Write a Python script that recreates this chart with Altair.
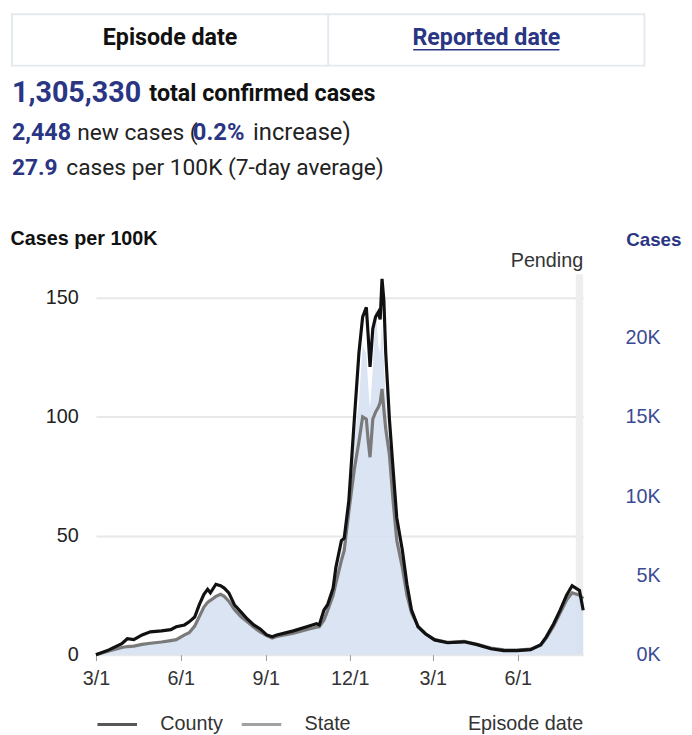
import altair as alt
import pandas as pd

# ---------------- data ----------------
dates = [
    "2020-03-01", "2020-03-15", "2020-03-29", "2020-04-04", "2020-04-11", "2020-04-20",
    "2020-04-29", "2020-05-11", "2020-05-21", "2020-05-27", "2020-06-05", "2020-06-10",
    "2020-06-16", "2020-06-21", "2020-06-26", "2020-06-30", "2020-07-03", "2020-07-09",
    "2020-07-14", "2020-07-18", "2020-07-23", "2020-07-29", "2020-08-05", "2020-08-12",
    "2020-08-19", "2020-08-26", "2020-09-02", "2020-09-08", "2020-09-13", "2020-10-01",
    "2020-10-18", "2020-10-26", "2020-10-29", "2020-11-03", "2020-11-07", "2020-11-13",
    "2020-11-16", "2020-11-22", "2020-11-25", "2020-11-30", "2020-12-06", "2020-12-11",
    "2020-12-15", "2020-12-19", "2020-12-21", "2020-12-23", "2020-12-26", "2020-12-29",
    "2021-01-01", "2021-01-03", "2021-01-05", "2021-01-07", "2021-01-09", "2021-01-13",
    "2021-01-17", "2021-01-21", "2021-01-27", "2021-02-01", "2021-02-06", "2021-02-13",
    "2021-02-21", "2021-03-03", "2021-03-17", "2021-04-04", "2021-04-18", "2021-05-03",
    "2021-05-17", "2021-05-31", "2021-06-15", "2021-06-26", "2021-07-02", "2021-07-10",
    "2021-07-17", "2021-07-24", "2021-07-30", "2021-08-03", "2021-08-07", "2021-08-11",
]
county_per_100k = [
    0, 2.0, 4.6, 6.7, 6.3, 8.3, 9.6, 10.0, 10.5, 11.7, 12.5, 13.8,
    15.8, 21.0, 25.4, 27.5, 26.0, 29.6, 29.0, 28.0, 26.0, 21.0, 18.0, 15.0,
    12.5, 10.8, 8.3, 7.5, 8.3, 10.0, 12.0, 13.0, 12.5, 18.7, 21.0, 28.0,
    36.7, 48.0, 49.0, 64.6, 99.0, 127.0, 142.0, 146.0, 134.0, 121.0, 137.0, 142.0,
    144.0, 141.0, 158.0, 149.0, 127.0, 99.0, 78.0, 57.5, 44.0, 29.6, 18.7, 11.7,
    8.8, 6.2, 5.0, 5.4, 4.2, 2.5, 1.7, 1.7, 2.1, 4.2, 7.5, 13.0,
    18.7, 25.0, 29.0, 28.0, 27.0, 18.7,
]
state_per_100k = [
    0, 1.5, 3.0, 3.4, 3.6, 4.3, 4.8, 5.3, 5.9, 6.3, 8.3, 9.2,
    12.0, 16.0, 20.0, 22.0, 22.8, 24.5, 25.4, 24.5, 22.5, 19.0, 16.0, 13.8,
    11.5, 9.6, 8.0, 7.0, 7.6, 9.0, 10.8, 11.5, 11.7, 14.5, 18.5, 25.0,
    30.0, 39.6, 43.7, 60.0, 78.0, 89.6, 100.0, 99.0, 90.0, 83.0, 99.0, 102.0,
    104.0, 106.0, 111.7, 103.0, 95.0, 84.0, 64.6, 48.0, 36.7, 25.0, 17.5, 12.0,
    8.8, 6.3, 5.2, 5.6, 4.4, 2.8, 2.0, 1.9, 2.3, 4.0, 7.0, 12.0,
    17.5, 23.0, 26.0, 25.5, 25.0, 23.5,
]
daily_cases = [
    0, 200, 450, 500, 550, 650, 720, 800, 900, 950, 1250, 1400,
    1800, 2400, 3000, 3300, 3300, 3700, 3800, 3700, 3400, 2900, 2400, 2100,
    1700, 1450, 1200, 1050, 1150, 1350, 1600, 1750, 1800, 2300, 2900, 4000,
    5000, 6500, 7200, 9500, 13500, 16000, 19500, 19000, 17000, 15500, 18000, 22000,
    19500, 19000, 21000, 18500, 16000, 13000, 10500, 8000, 6000, 4000, 2700, 1800,
    1300, 950, 780, 820, 650, 420, 300, 280, 330, 600, 1050, 1800,
    2600, 3400, 3900, 3850, 3700, 3500,
]
series_names = ["County", "State"]
x_tick_dates = [(2020, 3), (2020, 6), (2020, 9), (2020, 12), (2021, 3), (2021, 6)]
left_ticks = [0, 50, 100, 150]
right_ticks = [0, 5000, 10000, 15000, 20000]
pending_start = "2021-08-03"
pending_end = "2021-08-11"

NAVY = "#2a3584"
TXT = "#222222"
HFONT = "Roboto"
CFONT = "Liberation Sans"

# ---------------- tables ----------------
df_cases = pd.DataFrame({"date": pd.to_datetime(dates), "cases": daily_cases})
df_lines = pd.concat([
    pd.DataFrame({"date": pd.to_datetime(dates), "value": state_per_100k, "series": "State", "order": 0}),
    pd.DataFrame({"date": pd.to_datetime(dates), "value": county_per_100k, "series": "County", "order": 1}),
])
df_pending = pd.DataFrame({"date": [pd.Timestamp(pending_start)], "end": [pd.Timestamp(pending_end)]})

x_domain = [alt.DateTime(year=2020, month=3, date=1), alt.DateTime(year=2021, month=8, date=11)]
x_vals = [alt.DateTime(year=y, month=m, date=1) for y, m in x_tick_dates]
xscale = alt.Scale(domain=x_domain)

x_axis = alt.Axis(values=x_vals, format="%-m/%-d", labelFontSize=20, labelColor="#333333",
                  labelFont=CFONT, tickColor="#9a9a9a", tickSize=6, domain=False, grid=False,
                  title=None, labelPadding=8, labelFlush=False)
X = alt.X("date:T", scale=xscale, axis=x_axis)

pending = alt.Chart(df_pending).mark_rect(color="#eeeeee").encode(x=X, x2="end:T")

area = alt.Chart(df_cases).mark_area(color="#d3dff1", opacity=0.85, interpolate="linear").encode(
    x=X,
    y=alt.Y("cases:Q", scale=alt.Scale(domain=[0, 24000], nice=False),
            axis=alt.Axis(orient="right", values=right_ticks,
                          labelExpr="(datum.value/1000) + 'K'",
                          grid=False, domain=False, ticks=False, labelAlign="right",
                          labelPadding=78, labelColor="#3b4a94", labelFontSize=20,
                          labelFont=CFONT, labelBaseline="middle",
                          title="Cases", titleAngle=0, titleAlign="left", titleBaseline="middle",
                          titleX=43, titleY=-35, titleColor=NAVY, titleFontWeight="bold",
                          titleFontSize=19, titleFont=CFONT)),
)

lines = alt.Chart(df_lines).mark_line(strokeWidth=3.2, interpolate="linear").encode(
    x=X,
    y=alt.Y("value:Q", scale=alt.Scale(domain=[0, 160], nice=False),
            axis=alt.Axis(orient="left", values=left_ticks, grid=True, gridColor="#e8e8e8",
                          gridWidth=2, domain=False, ticks=False, labelPadding=18,
                          labelFontSize=20, labelColor=TXT, labelFont=CFONT,
                          title="Cases per 100K", titleAngle=0, titleAlign="left",
                          titleBaseline="middle", titleX=-87, titleY=-36, titleFontSize=20,
                          titleFontWeight="bold", titleColor="#111111", titleFont=CFONT)),
    color=alt.Color("series:N",
                    scale=alt.Scale(domain=series_names, range=["#111111", "#7a7a7a"]),
                    legend=alt.Legend(orient="none", legendX=0, legendY=434, direction="horizontal",
                                      title=None, symbolType="stroke", symbolStrokeWidth=3,
                                      symbolSize=1600, symbolOpacity=0.7, labelFontSize=20,
                                      labelColor="#333333", labelFont=CFONT, labelOffset=22,
                                      columnPadding=12)),
    order=alt.Order("order:Q"),
)


def txt(text, x, y, size, weight="normal", color=TXT, font=HFONT, align="left", baseline="middle"):
    return alt.Chart(pd.DataFrame({"t": [text]})).mark_text(
        text=text, fontSize=size, fontWeight=weight, color=color, font=font,
        align=align, baseline=baseline).encode(x=alt.value(x), y=alt.value(y))


box = alt.Chart(pd.DataFrame({"t": [0]})).mark_rect(
    fill="white", stroke="#e4e9ef", strokeWidth=2).encode(
    x=alt.value(-85), x2=alt.value(555), y=alt.value(-263), y2=alt.value(-211))
divider = alt.Chart(pd.DataFrame({"t": [0]})).mark_rule(color="#e4e9ef", strokeWidth=2).encode(
    x=alt.value(235), y=alt.value(-263), y2=alt.value(-211))
underline = alt.Chart(pd.DataFrame({"t": [0]})).mark_rule(color=NAVY, strokeWidth=1.5).encode(
    x=alt.value(321), x2=alt.value(469), y=alt.value(-227))

texts = [
    txt("Episode date", 75, -239, 23.5, "bold", "#111111", align="center"),
    txt("Reported date", 395, -239, 23.5, "bold", NAVY, align="center"),
    txt("1,305,330", -85, -183, 29, "bold", NAVY),
    txt("total confirmed cases", 54, -182, 23.5, "bold", "#111111"),
    txt("2,448", -85, -143, 23.5, "bold", NAVY),
    txt("new cases (", -19, -143, 23, "normal", TXT),
    txt("0.2%", 98, -143, 24, "bold", NAVY),
    txt("increase)", 159, -143, 24, "normal", TXT),
    txt("27.9", -85, -107, 23, "bold", NAVY),
    txt("cases per 100K (7-day average)", -30, -107, 23, "normal", TXT),
    txt("Pending", 493, -13, 20, "normal", "#333333", font=CFONT, align="right"),
    txt("Episode date", 493, 455, 20, "normal", "#333333", font=CFONT, align="right"),
]

chart = alt.layer(pending, area, lines, box, divider, underline, *texts).resolve_scale(
    y="independent"
).properties(
    width=493, height=385,
    autosize=alt.AutoSizeParams(type="none"),
    padding={"left": 89, "top": 265, "right": 102, "bottom": 76},
    background="white",
).configure_view(stroke=None)

chart.save("out.html", embed_options={"renderer": "svg", "actions": False})
